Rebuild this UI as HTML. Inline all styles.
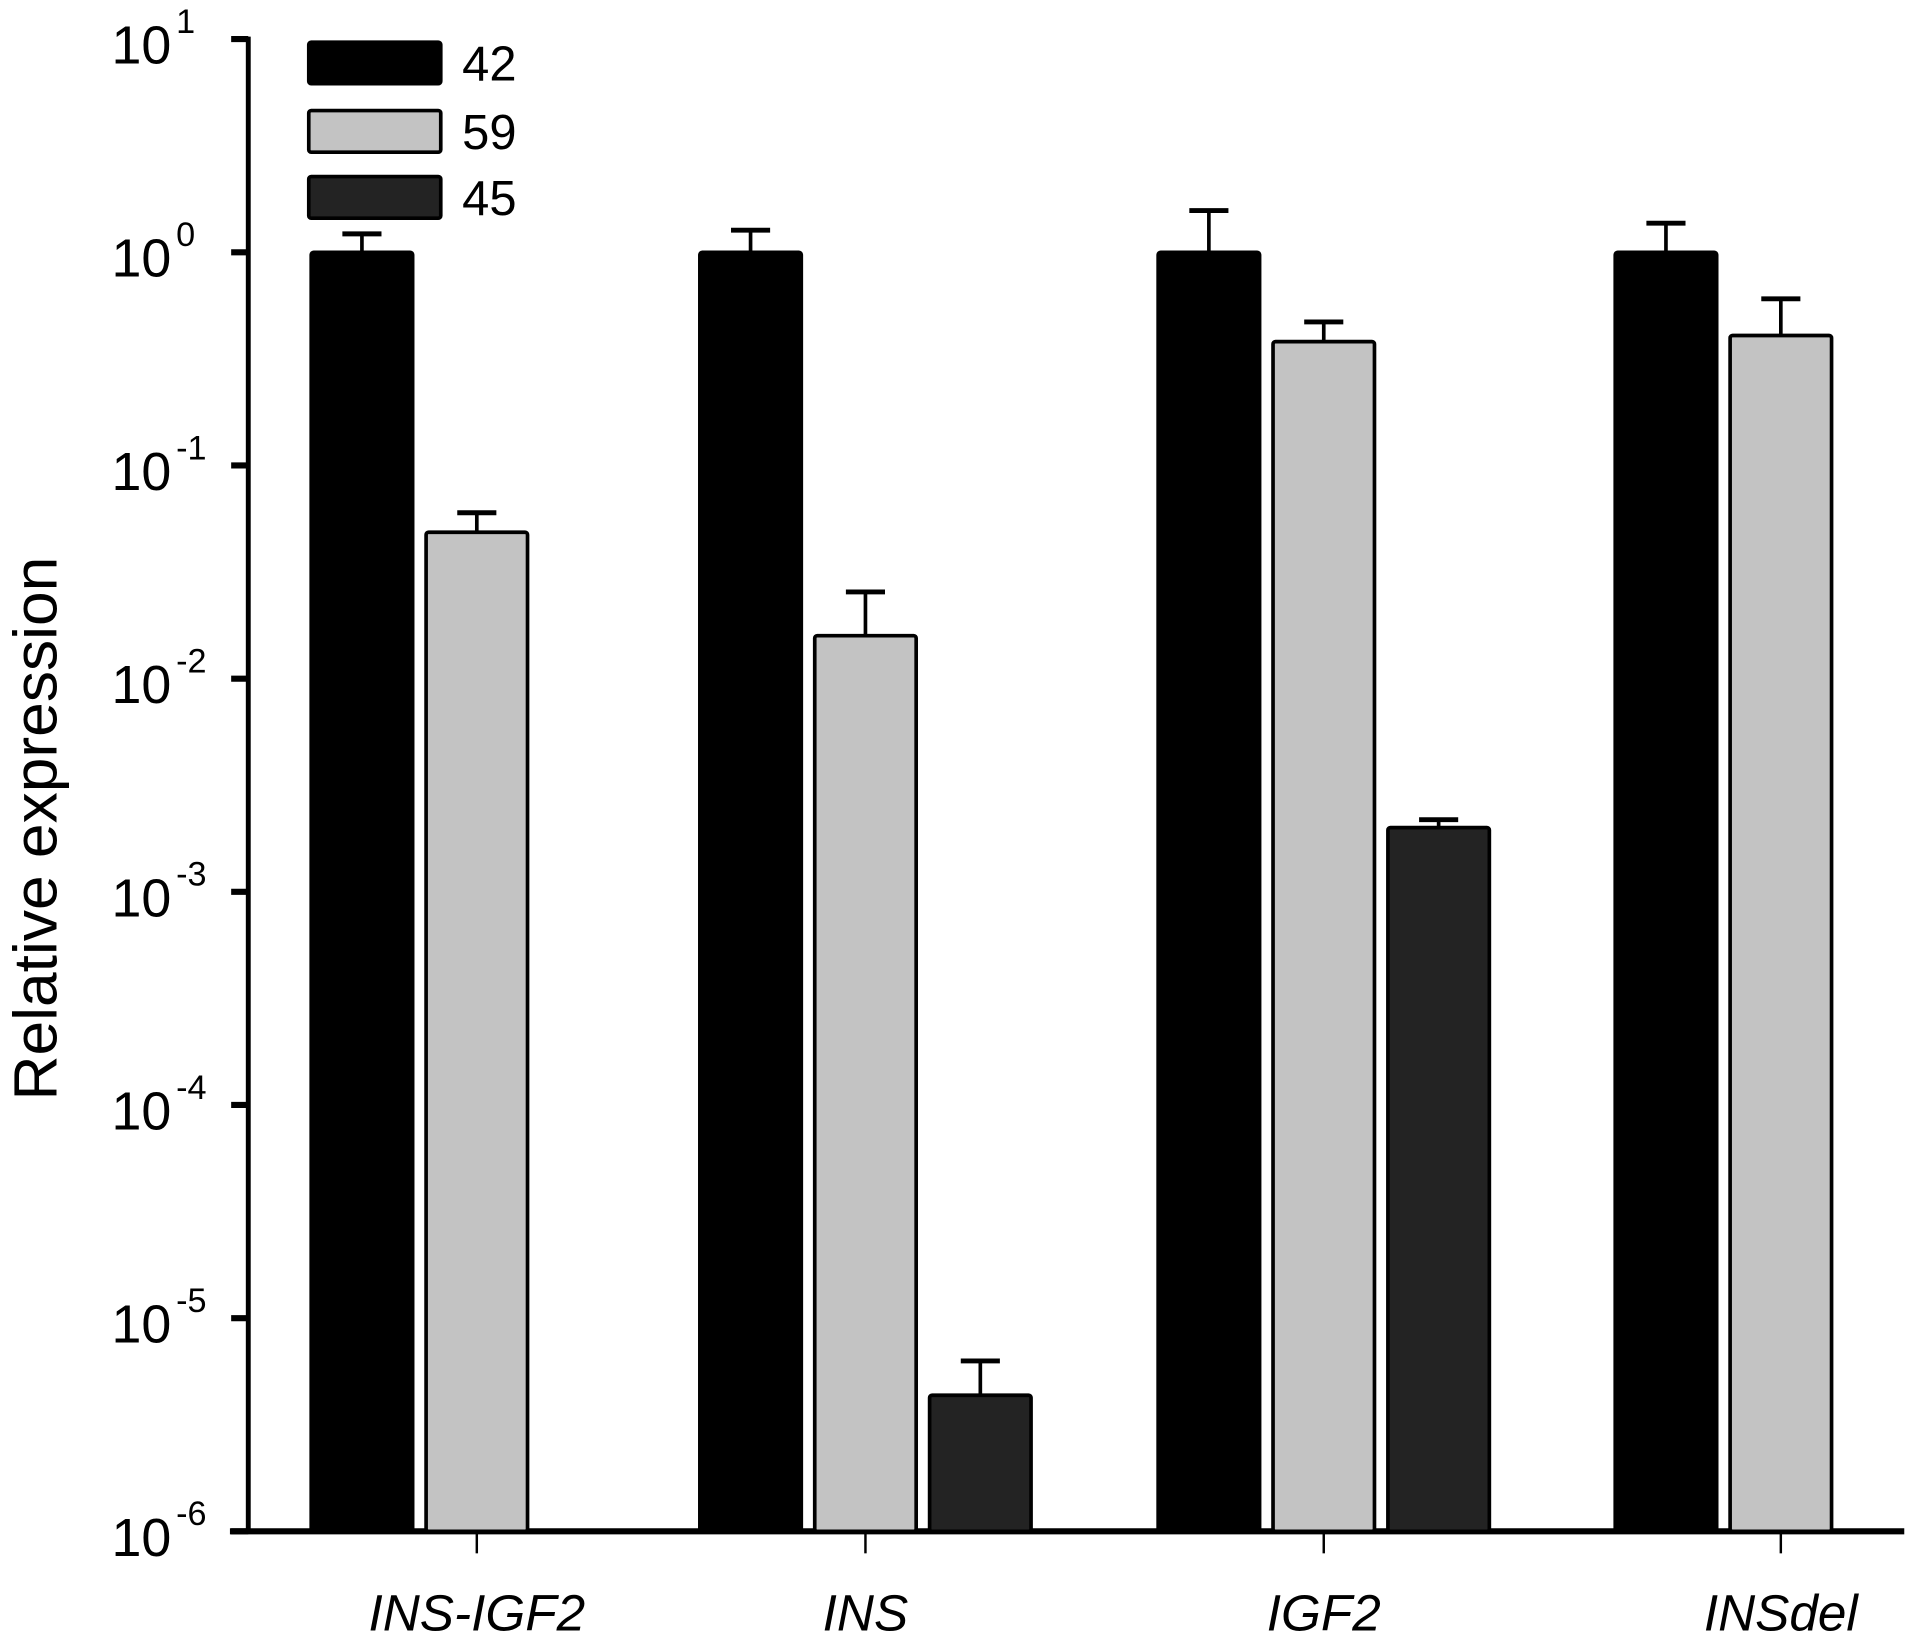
<!DOCTYPE html>
<html><head><meta charset="utf-8"><style>
html,body{margin:0;padding:0;background:#fff}
svg text{font-family:"Liberation Sans Narrow","Liberation Sans",sans-serif}
</style></head><body>
<svg id="chart" width="1913" height="1645" viewBox="0 0 1565 1346" xmlns="http://www.w3.org/2000/svg">
<rect width="1565" height="1346" fill="#fff"/>
<g id="axes"></g><g id="bars"></g><g id="legend"></g>
</svg>
<script>
const categories = ["INS-IGF2","INS","IGF2","INSdel"];
const seriesNames = ["42","59","45"];
const series42 = [1,1,1,1];
const err42 = [1.22,1.27,1.57,1.37];
const series59 = [0.0486,0.0159,0.381,0.407];
const err59 = [0.060,0.0255,0.471,0.605];
const series45 = [null,4.35e-6,0.0020,null];
const err45 = [null,6.3e-6,0.00218,null];
const tickExps = [1,0,-1,-2,-3,-4,-5,-6];

const NS="http://www.w3.org/2000/svg";
const yTop=32,yBot=1253,minE=-6,maxE=1;
function y(v){return yBot-(Math.log10(v)-minE)/(maxE-minE)*(yBot-yTop);}
const centers=[390,708,1083,1457];
function mk(tag,attrs,parent){const e=document.createElementNS(NS,tag);for(const k in attrs)e.setAttribute(k,attrs[k]);parent.appendChild(e);return e;}
const axes=document.getElementById('axes'),bars=document.getElementById('bars'),legend=document.getElementById('legend');

const colors=["#000","#c3c3c3","#232323"];
const vals=[series42,series59,series45], errs=[err42,err59,err45];
const bw=86, step=94;
categories.forEach((c,i)=>{
  for(let s=0;s<3;s++){
    const v=vals[s][i]; if(v==null) continue;
    const cx=centers[i]+(s-1)*step;
    const top=y(v), et=y(errs[s][i]);
    const eb=mk('line',{x1:cx,x2:cx,y1:top,y2:et,stroke:'#000','stroke-width':3},bars);
    
    
    const cap=mk('line',{x1:cx-16,x2:cx+16,y1:et,y2:et,stroke:'#000','stroke-width':4},bars);
    
    
    const r=mk('rect',{x:cx-bw/2+1.5,y:top,width:bw-3,height:yBot-top,fill:colors[s],stroke:'#000','stroke-width':3,rx:2},bars);
    
    
  }
  const t=mk('line',{x1:centers[i],x2:centers[i],y1:yBot,y2:yBot+18,stroke:'#000','stroke-width':2},axes);
  
  
  const l=mk('text',{x:centers[i],y:1334,'text-anchor':'middle','font-size':42,'font-style':'italic'},axes);
  l.textContent=c;
  
  
});
const ya=mk('line',{x1:203,x2:203,y1:yTop-2,y2:yBot,stroke:'#000','stroke-width':4},axes);


const xa=mk('line',{x1:188,x2:1558,y1:yBot,y2:yBot,stroke:'#000','stroke-width':5},axes);


tickExps.forEach(e=>{
  const yy=y(Math.pow(10,e));
  const t=mk('line',{x1:189,x2:203,y1:yy,y2:yy,stroke:'#000','stroke-width':5},axes);
  
  
  const tx=mk('text',{x:140,y:yy+20,'text-anchor':'end','font-size':44},axes);
  
  
  tx.textContent='10';
  const sp=mk('text',{x:144,y:yy-5,'text-anchor':'start','font-size':28},axes);
  sp.textContent=String(e);
  
  
});
const yt=mk('text',{x:0,y:0,'text-anchor':'middle','font-size':50,textLength:445,lengthAdjust:'spacingAndGlyphs',transform:'translate(46,678) rotate(-90)'},axes);
yt.textContent='Relative expression';


const ly=[33,89,143];
seriesNames.forEach((n,s)=>{
  const r=mk('rect',{x:252.5,y:ly[s]+1.5,width:108,height:34,fill:colors[s],stroke:'#000','stroke-width':3,rx:2},legend);
  
  
  const t=mk('text',{x:378,y:ly[s]+33,'font-size':40},legend);
  t.textContent=n;
  
  
});
</script>
</body></html>
